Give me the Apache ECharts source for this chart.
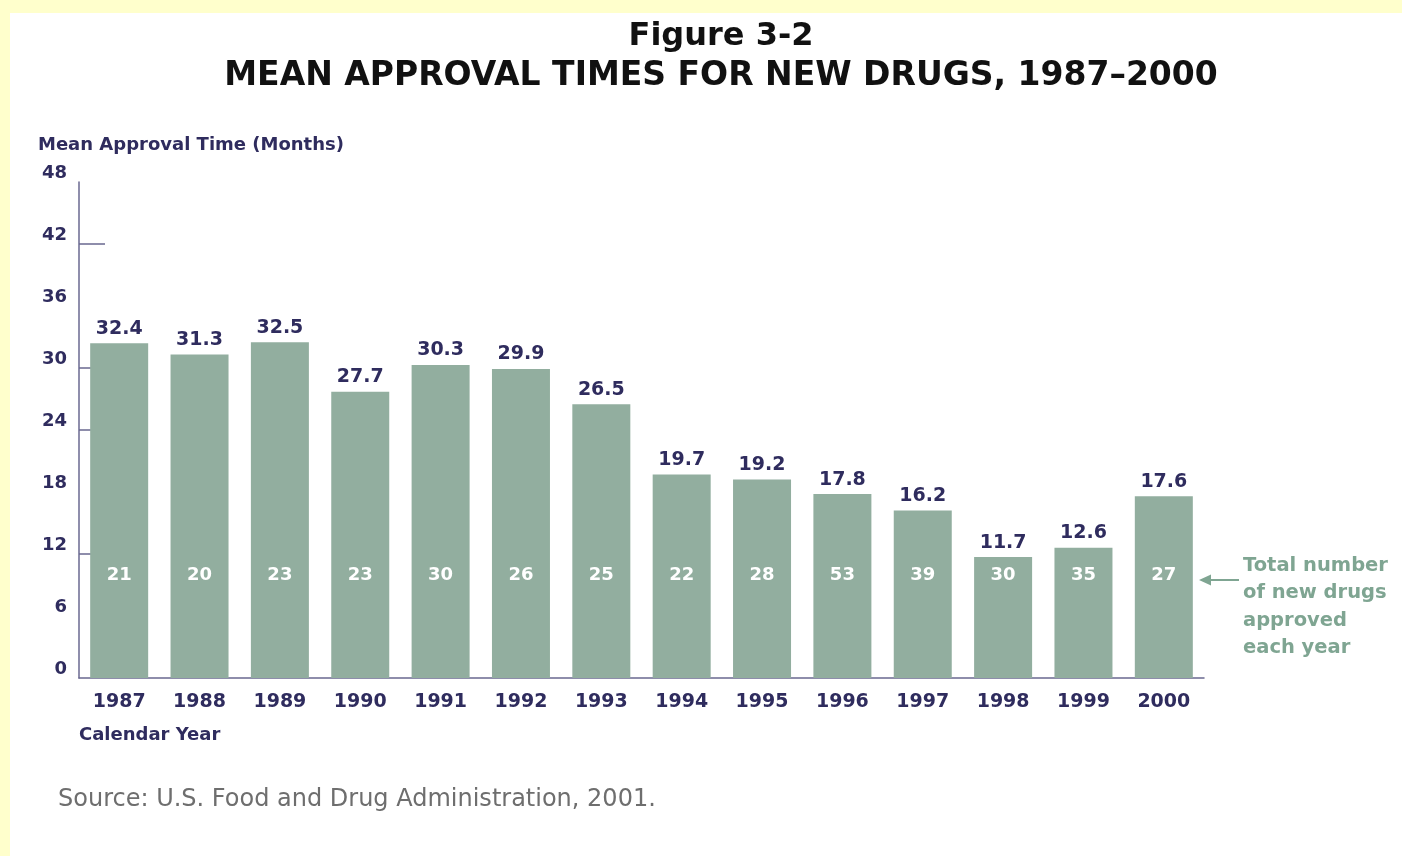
<!DOCTYPE html>
<html>
<head>
<meta charset="utf-8">
<script src="https://cdn.jsdelivr.net/npm/echarts@6/dist/echarts.min.js"></script>
<style>
  html, body { margin: 0; padding: 0; background: #FFFFCC; width: 1402px; height: 856px; overflow: hidden; }
  #chart { position: absolute; left: 10px; top: 13px; width: 1392px; height: 843px; background: #ffffff; }
</style>
</head>
<body>
<div id="chart"></div>
<script>
const years = ['1987','1988','1989','1990','1991','1992','1993','1994','1995','1996','1997','1998','1999','2000'];
const meanMonths = [32.4, 31.3, 32.5, 27.7, 30.3, 29.9, 26.5, 19.7, 19.2, 17.8, 16.2, 11.7, 12.6, 17.6];
const drugsApproved = [21, 20, 23, 23, 30, 26, 25, 22, 28, 53, 39, 30, 35, 27];
const yMin = 0, yMax = 48, yStep = 6;
const visibleTicks = [42, 30, 24, 12];

const NAVY = '#2f2c5e';
const AXIS = '#6a6890';
const BAR = '#92ae9f';
const GREEN = '#7fa592';
const FONT = '"DejaVu Sans", sans-serif';

const chart = echarts.init(document.getElementById('chart'), null, { renderer: 'canvas' });

chart.setOption({
  animation: false,
  backgroundColor: '#ffffff',
  grid: { left: 69, right: 198, top: 169, bottom: 178, containLabel: false, outerBoundsMode: 'none' },
  xAxis: {
    type: 'category',
    data: years,
    axisLine: { show: true, lineStyle: { color: AXIS, width: 1.5 } },
    axisTick: { show: false },
    axisLabel: { color: NAVY, fontFamily: FONT, fontWeight: 'bold', fontSize: 19, margin: 15 }
  },
  yAxis: {
    type: 'value',
    min: yMin, max: yMax, interval: yStep,
    splitLine: { show: false },
    axisLine: { show: true, lineStyle: { color: AXIS, width: 1.5 } },
    axisTick: { show: true, inside: true, length: 26, customValues: visibleTicks, lineStyle: { color: AXIS, width: 1.5 } },
    axisLabel: { color: NAVY, fontFamily: FONT, fontWeight: 'bold', fontSize: 18, margin: 12,
                 verticalAlign: 'bottom', lineHeight: 18, padding: [0, 0, 0, 0] }
  },
  series: [
    {
      type: 'bar',
      data: meanMonths,
      barWidth: 58,
      itemStyle: { color: BAR },
      label: { show: true, position: 'top', distance: 5, color: NAVY, fontFamily: FONT,
               fontWeight: 'bold', fontSize: 19, formatter: p => p.value.toFixed(1) }
    },
    {
      type: 'bar',
      data: meanMonths,
      barWidth: 58,
      barGap: '-100%',
      silent: true,
      itemStyle: { color: 'rgba(0,0,0,0)' },
      label: { show: true, position: 'insideBottom', distance: 94, color: '#ffffff', fontFamily: FONT,
               fontWeight: 'bold', fontSize: 18, formatter: p => String(drugsApproved[p.dataIndex]) }
    }
  ],
  graphic: [
    { type: 'text', x: 711, y: 24, style: { text: 'Figure 3-2', font: 'bold 32px ' + FONT, fill: '#111111', textAlign: 'center', textVerticalAlign: 'middle' } },
    { type: 'text', x: 711, y: 63, style: { text: 'MEAN APPROVAL TIMES FOR NEW DRUGS, 1987–2000', font: 'bold 33px ' + FONT, fill: '#111111', textAlign: 'center', textVerticalAlign: 'middle' } },
    { type: 'text', x: 28, y: 132, style: { text: 'Mean Approval Time (Months)', font: 'bold 18px ' + FONT, fill: NAVY, textVerticalAlign: 'middle' } },
    { type: 'text', x: 69, y: 722, style: { text: 'Calendar Year', font: 'bold 18px ' + FONT, fill: NAVY, textVerticalAlign: 'middle' } },
    { type: 'text', x: 48, y: 787, style: { text: 'Source: U.S. Food and Drug Administration, 2001.', font: '24px ' + FONT, fill: '#6e6e6e', textVerticalAlign: 'middle' } },
    { type: 'text', x: 1233, y: 539, style: { text: 'Total number\nof new drugs\napproved\neach year', font: 'bold 19.5px ' + FONT, fill: GREEN, lineHeight: 27.5 } },
    { type: 'line', shape: { x1: 1195, y1: 567, x2: 1229, y2: 567 }, style: { stroke: GREEN, lineWidth: 2 } },
    { type: 'polygon', shape: { points: [[1189, 567], [1201, 561.5], [1201, 572.5]] }, style: { fill: GREEN } }
  ]
});
</script>
</body>
</html>
